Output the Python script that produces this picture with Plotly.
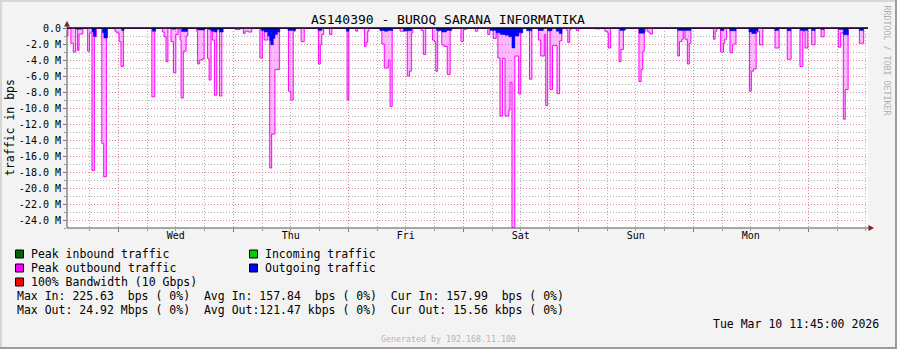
import plotly.graph_objects as go
import pandas as pd

# ---------------- data ----------------
BASE = pd.Timestamp("2026-03-04 00:00")          # Wed 00:00
RANGE_H = [-10.71, 156.45]                        # graph window, hours from BASE

# Peak outbound traffic (Mbps), step series: hours from BASE -> value
peak_out_h = [
    -10.7, -10.5, -9.9, -9.4, -8.9, -8.5, -8.2, -7.4, -6.4, -6.0, -5.5, -5.0, -4.6, -3.45, -3.05, -2.5, -2.3,
    -0.7, -0.35, 0.15, 0.55, 1.05,
    7.0, 7.6, 9.25, 9.55, 9.95, 10.35, 11.0, 11.5, 12.0, 12.5, 12.9, 13.1, 13.55, 14.15, 14.5,
    16.35, 16.55, 16.9, 17.4, 17.9, 18.6, 18.95, 19.35, 19.6, 20.05, 20.55, 21.1, 21.6,
    24.4, 25.4, 26.1, 26.45, 27.15, 27.85, 29.55, 30.05, 30.45, 31.2, 31.6, 32.0, 32.7, 33.6,
    35.5, 36.0, 36.5, 36.9, 38.15, 38.8, 41.75, 42.15, 42.45, 42.85, 44.05, 44.55, 47.75, 48.1,
    49.55, 49.95, 51.35, 51.7, 52.05, 52.3, 54.6, 55.0, 55.5, 56.35, 56.7, 57.15,
    58.8, 59.85, 60.3, 60.75, 61.15, 61.45, 63.2, 63.65, 64.15, 65.55, 65.95, 66.25, 66.65, 66.95,
    67.5, 67.95, 68.65, 69.25, 71.5, 72.0, 72.7, 74.5, 75.0, 77.1, 77.55, 78.25, 78.85, 79.2, 79.65,
    80.2, 80.7, 81.5, 81.75, 82.15, 82.75, 83.55, 84.0, 84.3, 85.8, 86.3, 87.65, 88.15, 88.9, 89.2,
    89.6, 90.1, 90.6, 91.55, 92.1, 92.55,
    93.6, 93.8, 94.2, 94.5, 95.6, 96.1, 99.5, 100.5, 101.55, 102.05, 102.25, 102.75, 104.5, 104.9,
    105.4, 105.9, 108.65, 109.1, 109.45, 109.75, 110.1, 110.5, 110.95, 111.45,
    116.75, 117.1, 117.6, 117.9, 118.25, 118.75, 119.15, 119.5, 124.2, 124.55, 124.9, 125.7, 126.3,
    126.55, 126.95, 127.65, 128.15, 128.5, 128.9, 131.7, 132.1, 132.55, 133.1, 133.35, 133.8, 134.5,
    137.05, 137.9, 139.6, 140.4, 142.25, 142.85, 143.3, 143.9, 144.7, 145.4, 146.65, 147.3,
    150.25, 150.75, 151.3, 151.7, 152.3, 154.65, 155.55, 156.45,
]
peak_out_mbps = [
    1.0, 0.05, 1.9, 3.0, 0.05, 2.8, 0.75, 0.05, 2.9, 0.6, 17.8, 1.1, 0.05, 14.4, 18.6, 1.25, 0.05,
    0.4, 0.6, 1.7, 4.8, 0.05,
    8.6, 0.05, 0.5, 1.1, 4.2, 0.05, 1.7, 5.6, 0.8, 0.2, 1.5, 8.75, 2.9, 1.0, 0.05,
    0.4, 4.5, 4.0, 3.9, 0.05, 3.8, 6.5, 0.05, 1.5, 8.4, 0.05, 8.5, 0.05,
    0.2, 0.05, 0.7, 0.4, 0.5, 0.05, 3.75, 0.2, 1.5, 0.6, 17.5, 13.25, 5.2, 0.05,
    7.9, 9.0, 0.4, 0.05, 1.7, 0.05, 4.5, 2.1, 0.8, 0.05, 0.8, 0.05, 9.0, 0.05,
    0.4, 0.05, 2.3, 1.8, 0.4, 0.05, 0.3, 2.0, 5.0, 4.0, 9.8, 0.05,
    0.4, 0.05, 6.0, 5.4, 0.6, 0.05, 0.3, 3.3, 0.05, 1.5, 1.7, 5.4, 0.4, 0.05,
    2.1, 2.3, 5.8, 0.05, 1.7, 0.2, 0.05, 0.4, 0.05, 0.8, 0.2, 1.3, 0.6, 3.75, 11.0,
    3.8, 11.0, 10.3, 6.8, 24.92, 3.5, 8.2, 0.6, 0.05, 6.4, 0.05, 1.5, 3.5, 0.8, 9.7,
    0.05, 7.7, 2.2, 8.2, 1.6, 0.05,
    0.3, 1.8, 0.2, 0.05, 0.3, 0.05, 0.1, 0.05, 0.4, 0.6, 2.5, 0.05, 4.2, 2.7,
    0.2, 0.05, 6.7, 5.2, 2.9, 0.4, 0.05, 0.5, 0.75, 0.05,
    3.5, 1.7, 1.4, 0.1, 1.4, 4.5, 1.9, 0.05, 1.4, 0.4, 0.05, 3.0, 1.9,
    1.4, 0.05, 3.1, 2.1, 2.0, 0.05, 7.9, 5.4, 5.1, 0.6, 0.4, 2.1, 0.05,
    2.5, 0.05, 3.9, 0.05, 4.8, 0.4, 2.5, 0.05, 2.1, 0.05, 1.1, 0.05,
    2.4, 0.6, 11.4, 7.7, 0.05, 1.9, 0.05, 0.05,
]

# Outgoing traffic (average, Mbps), step series
out_h = [
    -10.7, -8.8, -7.65, -5.5, -5.2, -4.7, -3.3, -3.0, -2.3, 0.7, 1.2, 7.1, 7.8, 11.2, 12.0, 13.2, 14.4,
    16.5, 18.1, 18.8, 19.4, 20.0, 20.6, 21.1, 21.9,
    29.8, 30.4, 31.2, 31.6, 31.8, 32.35, 32.7, 33.2, 33.7, 35.4, 37.0, 41.7, 42.5, 47.6, 48.15,
    54.6, 55.5, 56.3, 57.3, 59.5, 61.2, 66.4, 67.5, 68.5, 69.6,
    77.6, 78.8, 79.7, 80.7, 81.5, 82.15, 82.75, 83.6, 84.4, 85.2, 86.3, 87.6, 88.7, 89.6, 90.5,
    91.4, 92.0, 92.6, 104.7, 105.7, 108.65, 109.8, 116.7, 119.5, 125.7, 126.4, 127.6, 128.9,
    131.6, 132.2, 133.1, 133.5, 137.0, 137.8, 139.6, 140.35, 142.3, 143.9, 144.7, 145.4,
    146.65, 147.3, 150.3, 151.3, 152.35, 154.65, 155.5, 156.45,
]
out_mbps = [
    0.0, 0.15, 0.0, 0.5, 1.05, 0.0, 0.6, 1.25, 0.0, 0.3, 0.0, 0.4, 0.0, 0.15, 0.0, 0.45, 0.0,
    0.25, 0.0, 0.2, 0.4, 0.5, 0.2, 0.5, 0.0,
    0.3, 0.5, 1.0, 1.6, 2.1, 1.3, 0.8, 0.5, 0.0, 0.3, 0.0, 0.3, 0.0, 0.4, 0.0,
    0.3, 0.4, 0.3, 0.0, 0.35, 0.0, 0.3, 0.5, 0.3, 0.0,
    0.3, 0.6, 0.8, 0.9, 1.1, 2.5, 1.0, 0.6, 0.0, 0.35, 0.0, 0.3, 0.0, 0.35, 0.0,
    0.4, 0.7, 0.0, 0.3, 0.0, 0.65, 0.0, 0.3, 0.0, 0.3, 0.0, 0.35, 0.0,
    0.5, 0.7, 0.4, 0.0, 0.3, 0.0, 0.35, 0.0, 0.3, 0.0, 0.3, 0.0,
    0.2, 0.0, 0.2, 0.85, 0.0, 0.3, 0.0, 0.0,
]

bandwidth_bps = 10e9                               # 100% bandwidth line (off-scale)
y_ticks_m = [0, -2, -4, -6, -8, -10, -12, -14, -16, -18, -20, -22, -24]
day_labels = ["Wed", "Thu", "Fri", "Sat", "Sun", "Mon"]
day_label_h = [12, 36, 60, 84, 108, 132]

title = "AS140390 - BUROQ SARANA INFORMATIKA"
legend_rows = [
    ("Peak inbound traffic", "#006400", "Incoming traffic", "#00cc00"),
    ("Peak outbound traffic", "#ff00ff", "Outgoing traffic", "#0000ff"),
    ("100% Bandwidth (10 Gbps)", "#ff0000", None, None),
]
stats_lines = [
    "Max In: 225.63  bps ( 0%)  Avg In: 157.84  bps ( 0%)  Cur In: 157.99  bps ( 0%)",
    "Max Out: 24.92 Mbps ( 0%)  Avg Out:121.47 kbps ( 0%)  Cur Out: 15.56 kbps ( 0%)",
]
date_text = "Tue Mar 10 11:45:00 2026"
generated_text = "Generated by 192.168.11.100"
watermark = "RRDTOOL / TOBI OETIKER"

# ---------------- layout geometry (pixels) ----------------
W, H = 897, 349
PL, PR, PT, PB = 67, 868, 28, 228
FONT = "DejaVu Sans Mono"


def px(x):
    return (x - PL) / (PR - PL)


def py(y):
    return (PB - y) / (PB - PT)


def ts(hours):
    return [BASE + pd.Timedelta(hours=h) for h in hours]


fig = go.Figure()

# peak outbound (negative), with pink fill and magenta outline
fig.add_trace(go.Scatter(
    x=ts(peak_out_h), y=[-v * 1e6 for v in peak_out_mbps],
    mode="lines", line=dict(color="#ff00ff", width=1, shape="hv"),
    fill="tozeroy", fillcolor="rgba(255,40,255,0.33)", hoverinfo="skip", showlegend=False))
# outgoing average (blue area)
fig.add_trace(go.Scatter(
    x=ts(out_h), y=[-v * 1e6 for v in out_mbps],
    mode="lines", line=dict(color="#0000ff", width=0.5, shape="hv"),
    fill="tozeroy", fillcolor="#0000ff", hoverinfo="skip", showlegend=False))
# 100% bandwidth (off-scale), on the label axis
fig.add_trace(go.Scatter(
    x=ts(RANGE_H), y=[bandwidth_bps, bandwidth_bps], xaxis="x2",
    mode="lines", line=dict(color="#ff0000", width=1), hoverinfo="skip", showlegend=False))

major_grid = "#e68a8a"
minor_grid = "#b4b4b4"
dots = "1px,2px"

fig.update_layout(
    width=W, height=H, margin=dict(l=PL, r=W - PR, t=PT, b=H - PB, pad=0),
    paper_bgcolor="#f3f3f3", plot_bgcolor="#ffffff",
    showlegend=False, hovermode=False,
    font=dict(family=FONT, size=10, color="#000000"),
    xaxis=dict(
        type="date", range=ts(RANGE_H), tickmode="linear", tick0=BASE, dtick=86400000,
        showticklabels=False, showgrid=True, gridcolor=major_grid, griddash=dots, gridwidth=1,
        ticks="outside", ticklen=3, tickcolor="#777777",
        minor=dict(dtick=21600000, tick0=BASE, showgrid=True, gridcolor=minor_grid,
                   griddash=dots, gridwidth=1, ticks="outside", ticklen=2, tickcolor="#999999"),
        zeroline=False, showline=False, fixedrange=True),
    xaxis2=dict(
        type="date", overlaying="x", matches="x", side="bottom", range=ts(RANGE_H),
        tickmode="array", tickvals=ts(day_label_h), ticktext=day_labels,
        showgrid=False, ticks="", zeroline=False, showline=False,
        tickfont=dict(family=FONT, size=10, color="#000000")),
    yaxis=dict(
        range=[-25e6, 0], tickmode="array", tickvals=[v * 1e6 for v in y_ticks_m],
        ticktext=["0.0" if v == 0 else f"{v:.1f} M" for v in y_ticks_m],
        showgrid=True, gridcolor=major_grid, griddash=dots, gridwidth=1,
        ticks="outside", ticklen=3, tickcolor="#777777",
        minor=dict(dtick=1e6, tick0=0, showgrid=True, gridcolor=minor_grid, griddash=dots, gridwidth=1,
                   ticks="outside", ticklen=2, tickcolor="#999999"),
        zeroline=False, showline=False, fixedrange=True,
        tickfont=dict(family=FONT, size=10, color="#000000")),
)

shapes = []


def rect(x0, y0, x1, y1, color):
    shapes.append(dict(type="rect", xref="paper", yref="paper", x0=px(x0), x1=px(x1),
                       y0=py(y0), y1=py(y1), fillcolor=color, line=dict(width=0), layer="above"))


def hline(x0, x1, y, color, width=1):
    shapes.append(dict(type="line", xref="paper", yref="paper", x0=px(x0), x1=px(x1),
                       y0=py(y), y1=py(y), line=dict(color=color, width=width), layer="above"))


def vline(x, y0, y1, color, width=1):
    shapes.append(dict(type="line", xref="paper", yref="paper", x0=px(x), x1=px(x),
                       y0=py(y0), y1=py(y1), line=dict(color=color, width=width), layer="above"))


# frame shading
rect(0, 0, W, 2, "#d6d6d6")
rect(0, 0, 2, H, "#d6d6d6")
rect(0, H - 2, W, H, "#9c9c9c")
rect(W - 2, 0, W, H, "#9c9c9c")

# axes
hline(PL, PR + 2, PB, "#555555")
vline(PL, PB, PT - 3, "#555555")
hline(PL, PR, PT, "#000000", 1.3)        # zero line
# arrows
shapes.append(dict(type="path", xref="paper", yref="paper",
                   path=f"M {px(PL)} {py(PT - 7)} L {px(PL - 3)} {py(PT - 1.5)} L {px(PL + 3)} {py(PT - 1.5)} Z",
                   fillcolor="#8a1d1d", line=dict(width=0), layer="above"))
shapes.append(dict(type="path", xref="paper", yref="paper",
                   path=f"M {px(PR + 6)} {py(PB)} L {px(PR + 0.5)} {py(PB - 3)} L {px(PR + 0.5)} {py(PB + 3)} Z",
                   fillcolor="#8a1d1d", line=dict(width=0), layer="above"))

annotations = []


def text(x, y, s, size, anchor="left", color="#000000", angle=0):
    annotations.append(dict(xref="paper", yref="paper", x=px(x), y=py(y), text=s.replace(" ", "\u00a0"),
                            showarrow=False, xanchor=anchor, yanchor="middle", textangle=angle,
                            font=dict(family=FONT, size=size, color=color)))


text(448, 20, title, 13, anchor="center")
text(10, 128, "traffic in bps", 11.5, anchor="center", angle=-90)
text(886.5, 60, watermark, 8.3, anchor="center", color="#b0b0b0", angle=90)

row_y = [254, 268, 282]
for yy, (l1, c1, l2, c2) in zip(row_y, legend_rows):
    shapes.append(dict(type="rect", xref="paper", yref="paper", x0=px(15.5), x1=px(23.5),
                       y0=py(yy - 4), y1=py(yy + 4), fillcolor=c1, line=dict(color="#000000", width=1)))
    text(29, yy, l1, 11.5)
    if l2:
        shapes.append(dict(type="rect", xref="paper", yref="paper", x0=px(249.5), x1=px(257.5),
                           y0=py(yy - 4), y1=py(yy + 4), fillcolor=c2, line=dict(color="#000000", width=1)))
        text(263, yy, l2, 11.5)

text(15, 296, stats_lines[0], 11.5)
text(15, 310, stats_lines[1], 11.5)
text(881, 324, date_text, 11.5, anchor="right")
text(448, 339, generated_text, 8.3, anchor="center", color="#b4b4b4")

fig.update_layout(shapes=shapes, annotations=annotations)
fig.write_html("out.html", config={"displayModeBar": False, "staticPlot": True})
